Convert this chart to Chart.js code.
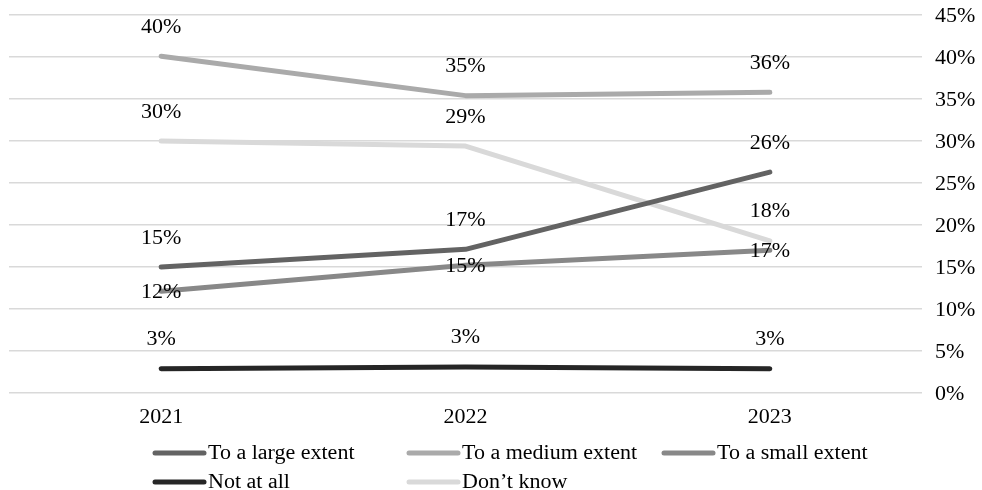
<!DOCTYPE html>
<html>
<head>
<meta charset="utf-8">
<script src="https://cdn.jsdelivr.net/npm/chart.js@4/dist/chart.umd.min.js"></script>
<style>
  html, body { margin: 0; padding: 0; background: #fff; }
  #wrap { width: 982px; height: 490px; }
</style>
</head>
<body>
<div id="wrap"><canvas id="myChart" width="982" height="490"></canvas></div>
<script>
// data (percent)
var years = ['2021', '2022', '2023'];
var seriesNames = ['To a large extent', 'To a medium extent', 'To a small extent', 'Not at all', 'Don\u2019t know'];
var largeExtent = [15.0, 17.1, 26.3];
var mediumExtent = [40.1, 35.4, 35.8];
var smallExtent = [12.1, 15.2, 17.0];
var notAtAll = [2.9, 3.1, 2.9];
var dontKnow = [30.0, 29.4, 18.1];
var yTicks = [0, 5, 10, 15, 20, 25, 30, 35, 40, 45];

var colors = ['#636363', '#aaaaaa', '#888888', '#262626', '#d9d9d9'];
// vertical shift of the value label, from the point
var labelShift = [-30, -30, 0, -30, -30];
var FONT = '20px "Liberation Serif", "Times New Roman", serif';

// the original text is a bit wide, so stretch it a little
function drawText(ctx, txt, x, y, align) {
    ctx.save();
    ctx.translate(x, y);
    ctx.scale(1.1, 1);
    ctx.textAlign = align;
    ctx.textBaseline = 'alphabetic';
    ctx.fillStyle = '#000';
    ctx.font = FONT;
    ctx.fillText(txt, 0, 0);
    ctx.restore();
}

var axisText = {
    id: 'axisText',
    afterDraw: function(chart) {
        var ctx = chart.ctx;
        var xs = chart.scales.x, ys = chart.scales.y;
        years.forEach(function(y, i) {
            drawText(ctx, y, xs.getPixelForValue(i), 423, 'center');
        });
        yTicks.forEach(function(v) {
            drawText(ctx, v + '%', chart.chartArea.right + 13, ys.getPixelForValue(v) + 6.5, 'left');
        });
    }
};

var valueLabels = {
    id: 'valueLabels',
    afterDatasetsDraw: function(chart) {
        var ctx = chart.ctx;
        chart.data.datasets.forEach(function(ds, i) {
            chart.getDatasetMeta(i).data.forEach(function(pt, j) {
                drawText(ctx, Math.round(ds.data[j]) + '%', pt.x, pt.y + labelShift[i] + 6.5, 'center');
            });
        });
    }
};

// legend laid out in columns like the original
var columnLegend = {
    id: 'columnLegend',
    afterDraw: function(chart) {
        var ctx = chart.ctx;
        var cols = [153, 407, 662];
        var rows = [453, 482];
        chart.data.datasets.forEach(function(ds, i) {
            var x = cols[i % 3];
            var y = rows[Math.floor(i / 3)];
            ctx.save();
            ctx.strokeStyle = ds.borderColor;
            ctx.lineWidth = 5;
            ctx.lineCap = 'round';
            ctx.beginPath();
            ctx.moveTo(x + 2, y);
            ctx.lineTo(x + 51, y);
            ctx.stroke();
            ctx.restore();
            drawText(ctx, ds.label, x + 55, y + 6, 'left');
        });
    }
};

var allSeries = [largeExtent, mediumExtent, smallExtent, notAtAll, dontKnow];

var ctx = document.getElementById('myChart').getContext('2d');
var myChart = new Chart(ctx, {
    type: 'line',
    data: {
        labels: years,
        datasets: allSeries.map(function(vals, i) {
            return {
                label: seriesNames[i],
                data: vals,
                borderColor: colors[i],
                backgroundColor: colors[i],
                borderWidth: 5,
                borderCapStyle: 'round',
                borderJoinStyle: 'round',
                pointRadius: 0,
                pointHoverRadius: 0,
                tension: 0,
                fill: false
            };
        })
    },
    options: {
        responsive: false,
        animation: false,
        layout: {
            padding: { left: 9, top: 15, right: 0, bottom: 97 }
        },
        scales: {
            x: {
                display: false,
                offset: true
            },
            y: {
                position: 'right',
                min: 0,
                max: 45,
                afterBuildTicks: function(scale) {
                    scale.ticks = yTicks.map(function(v) { return { value: v }; });
                },
                grid: { color: '#d9d9d9', lineWidth: 1.5, drawTicks: false },
                border: { display: false },
                ticks: { display: false },
                afterFit: function(scale) { scale.width = 60; }
            }
        },
        plugins: {
            legend: { display: false },
            tooltip: { enabled: false }
        }
    },
    plugins: [valueLabels, axisText, columnLegend]
});
</script>
</body>
</html>
